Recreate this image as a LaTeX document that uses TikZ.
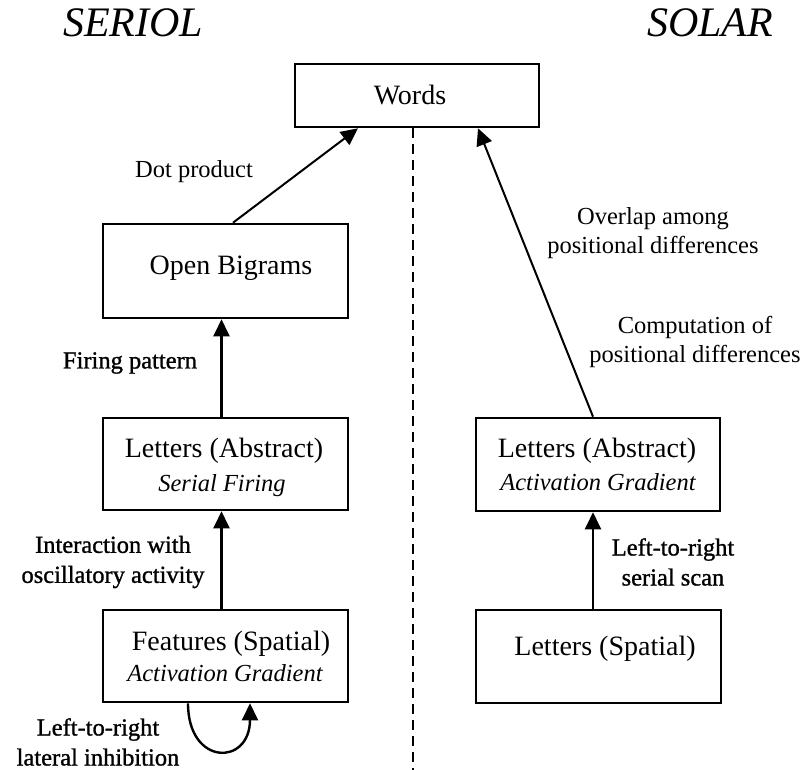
\documentclass[tikz,border=0pt]{standalone}
\usepackage{fontspec}
\setmainfont{Liberation Serif}
\newfontfamily\heavyfont[FakeBold=1.1]{Liberation Serif}
\usetikzlibrary{arrows.meta}
\tikzset{
  box/.style={draw, line width=2.6pt, inner sep=0pt},
  ttl/.style={font=\fontsize{28}{34}\selectfont, anchor=base, inner sep=0pt},
  sub/.style={font=\itshape\fontsize{24.5}{30}\selectfont, anchor=base, inner sep=0pt},
  lab/.style={font=\fontsize{24.5}{29}\selectfont, align=center, inner sep=0pt},
  hlab/.style={font=\heavyfont\fontsize{24.5}{30}\selectfont, align=center, inner sep=0pt},
  head/.style={font=\itshape\fontsize{42}{48}\selectfont, anchor=base, inner sep=0pt},
  arr/.style={line width=2.4pt, -{Triangle[length=17pt,width=16pt]}},
  darr/.style={line width=2pt, -{Triangle[length=17pt,width=16pt]}},
  divider/.style={line width=1.2pt, dash pattern=on 10pt off 6pt}
}
\begin{document}
\begin{tikzpicture}[x=1pt,y=-1pt]
\useasboundingbox (0,0) rectangle (807,770);
% headings
\node[head] (hser) at (133,37) {SERIOL};
\node[head] (hsol) at (710,37) {SOLAR};
% boxes
\node[box, minimum width=244pt, minimum height=63pt] (words) at (417,95.5) {};
\node[box, minimum width=245pt, minimum height=94pt] (ob) at (225.5,271) {};
\node[box, minimum width=245pt, minimum height=92pt] (la) at (225.5,464) {};
\node[box, minimum width=245pt, minimum height=92pt] (fs) at (225.5,656) {};
\node[box, minimum width=244pt, minimum height=93pt] (ra) at (598,464.5) {};
\node[box, minimum width=245pt, minimum height=93pt] (ls) at (598.5,656.5) {};
% box texts
\node[ttl] (wordst) at (410,105) {Words};
\node[ttl] (obt) at (231,275) {Open Bigrams};
\node[ttl] (lat) at (224,457) {Letters (Abstract)};
\node[sub] (las) at (222,491) {Serial Firing};
\node[ttl] (fst) at (231,650) {Features (Spatial)};
\node[sub] (fss) at (225,681) {Activation Gradient};
\node[ttl] (rat) at (597,457) {Letters (Abstract)};
\node[sub] (ras) at (598,490) {Activation Gradient};
\node[ttl] (lst) at (605,655) {Letters (Spatial)};
% divider
\draw[divider] ([xshift=-4pt]words.south) -- ++(0,643);
% connectors
\draw[darr] ([xshift=7.5pt]ob.north) -- ([xshift=-59pt]words.south);
\draw[darr] ([xshift=-5pt]ra.north) -- ([xshift=61pt]words.south);
\draw[arr] ([xshift=-4pt]la.north) -- ([xshift=-4pt]ob.south);
\draw[arr] ([xshift=-4pt]fs.north) -- ([xshift=-4pt]la.south);
\draw[arr] ([xshift=-5.5pt]ls.north) -- ([xshift=-5pt]ra.south);
\draw[arr] ([xshift=-37.5pt]fs.south) .. controls +(0,63) and +(0,63) .. ([xshift=24.5pt]fs.south);
% labels
\node[lab] (ldot) at (194,172) {Dot product};
\node[hlab] (lfire) at (130,363) {Firing pattern};
\node[hlab] (linter) at (113,562) {Interaction with\\oscillatory activity};
\node[hlab] (lltr) at (98,742) {Left-to-right\\lateral inhibition};
\node[lab] (lover) at (653,233) {Overlap among\\positional differences};
\node[lab] (lcomp) at (695,342) {Computation of\\positional differences};
\node[hlab] (lscan) at (673,562) {Left-to-right\\serial scan};
\end{tikzpicture}
\end{document}
